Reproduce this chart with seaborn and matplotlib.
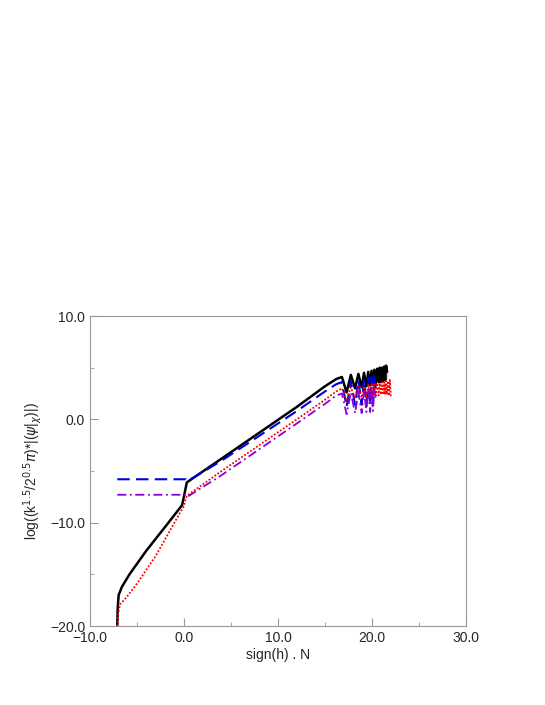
import matplotlib
matplotlib.use("Agg")
import matplotlib.pyplot as plt
import seaborn as sns

# curve points
black_x = [-7.1, -7.05, -6.95, -6.6, -5.8, -4, -2, -0.2, 0.1, 0.3, 4, 8, 12, 15, 16.2, 16.8,
           17.3, 17.75, 18.2, 18.55, 18.9, 19.15, 19.4, 19.6, 19.8, 19.95, 20.1, 20.25,
           20.4, 20.55, 20.7, 20.82, 20.95, 21.07, 21.2, 21.3, 21.4, 21.5, 21.6, 21.6]
black_y = [-20, -18.2, -17.0, -16.2, -15.0, -12.7, -10.4, -8.3, -7.0, -6.1, -3.8, -1.3, 1.2,
           3.2, 3.9, 4.1, 2.6, 4.3, 3.0, 4.4, 3.1, 4.5, 3.2, 4.6, 3.3, 4.7, 3.4, 4.8,
           3.5, 4.9, 3.6, 5.0, 3.6, 5.0, 3.7, 5.1, 3.8, 5.2, 4.0, 5.2]
blue_x = [-7.1, 0.2, 0.35, 4, 8, 12, 15, 16.2, 16.8, 17.3, 17.75, 18.2, 18.55, 18.9, 19.15,
          19.4, 19.6, 19.8, 19.95, 20.1, 20.25, 20.4]
blue_y = [-5.8, -5.8, -6.0, -4.0, -1.6, 0.8, 2.7, 3.4, 3.6, 1.2, 3.7, 1.4, 3.8, 1.4, 3.9,
          1.5, 4.0, 1.5, 4.1, 1.6, 4.2, 3.0]
red_x = [-7.1, -7.0, -6.8, -6.1, -5, -3, -0.4, 0.0, 0.15, 0.3, 4, 8, 12, 15, 16.2, 16.8,
         17.3, 17.75, 18.2, 18.55, 18.9, 19.15, 19.4, 19.6, 19.8, 19.95, 20.1, 20.25,
         20.4, 20.55, 20.7, 20.82, 20.95, 21.07, 21.2, 21.3, 21.4, 21.5, 21.6, 21.7,
         21.8, 21.9, 22.0, 22.1]
red_y = [-20, -18.8, -17.9, -17.2, -15.9, -13.2, -9.0, -8.4, -7.8, -7.4, -5.0, -2.5, 0.0,
         1.9, 2.7, 3.0, 1.8, 3.1, 2.0, 3.2, 2.1, 3.2, 2.1, 3.3, 2.2, 3.4, 2.2, 3.4,
         2.3, 3.5, 2.3, 3.5, 2.4, 3.6, 2.4, 3.6, 2.4, 3.7, 2.4, 3.7, 2.3, 3.8, 2.3, 2.2]
purple_x = [-7.1, 0.2, 0.35, 4, 8, 12, 15, 16.2, 16.8, 17.3, 17.75, 18.2, 18.55, 18.9, 19.15,
            19.4, 19.6, 19.8, 19.95, 20.1, 20.25, 20.4]
purple_y = [-7.3, -7.3, -7.5, -5.4, -2.9, -0.4, 1.5, 2.3, 2.5, 0.5, 2.6, 0.6, 2.7, 0.6, 2.8,
            0.7, 2.9, 0.7, 2.9, 0.8, 3.0, 2.0]

sns.set_style("ticks")
plt.rcParams["font.family"] = ["Liberation Sans", "DejaVu Sans"]
fig = plt.figure(figsize=(5.45, 7.05), dpi=100)
ax = fig.add_axes([90 / 545, 79 / 705, 376 / 545, 310 / 705])

sns.lineplot(x=black_x, y=black_y, color="black", lw=1.8, sort=False, ax=ax)
sns.lineplot(x=blue_x, y=blue_y, color="#0000dd", lw=1.5, sort=False, ax=ax)
sns.lineplot(x=red_x, y=red_y, color="red", lw=1.3, sort=False, ax=ax)
sns.lineplot(x=purple_x, y=purple_y, color="#8a00d4", lw=1.3, sort=False, ax=ax)
ax.lines[1].set_linestyle((0, (6, 3)))
ax.lines[2].set_linestyle((0, (1, 1)))
ax.lines[3].set_linestyle((0, (5, 2, 1, 2)))

ax.set_xlim(-10, 30)
ax.set_ylim(-20, 10)
ax.set_xticks([-10, 0, 10, 20, 30])
ax.set_xticklabels(["\u221210.0", "0.0", "10.0", "20.0", "30.0"])
ax.set_xticks([-5, 5, 15, 25], minor=True)
ax.set_yticks([-20, -10, 0, 10])
ax.set_yticklabels(["\u221220.0", "\u221210.0", "0.0", "10.0"])
ax.set_yticks([-15, -5, 5], minor=True)
ax.tick_params(labelsize=10, direction="in", length=6, color="#999999")
ax.tick_params(which="minor", direction="in", length=3, color="#999999")
for s in ax.spines.values():
    s.set_color("#999999")
ax.set_xlabel("sign(h) . N", fontsize=10, labelpad=2)
ax.set_ylabel(r"log((k$^{1.5}$/2$^{0.5}$$\pi$)*|($\psi$|$_\chi$)|)", fontsize=10)
fig.savefig("out.png", dpi=100)
